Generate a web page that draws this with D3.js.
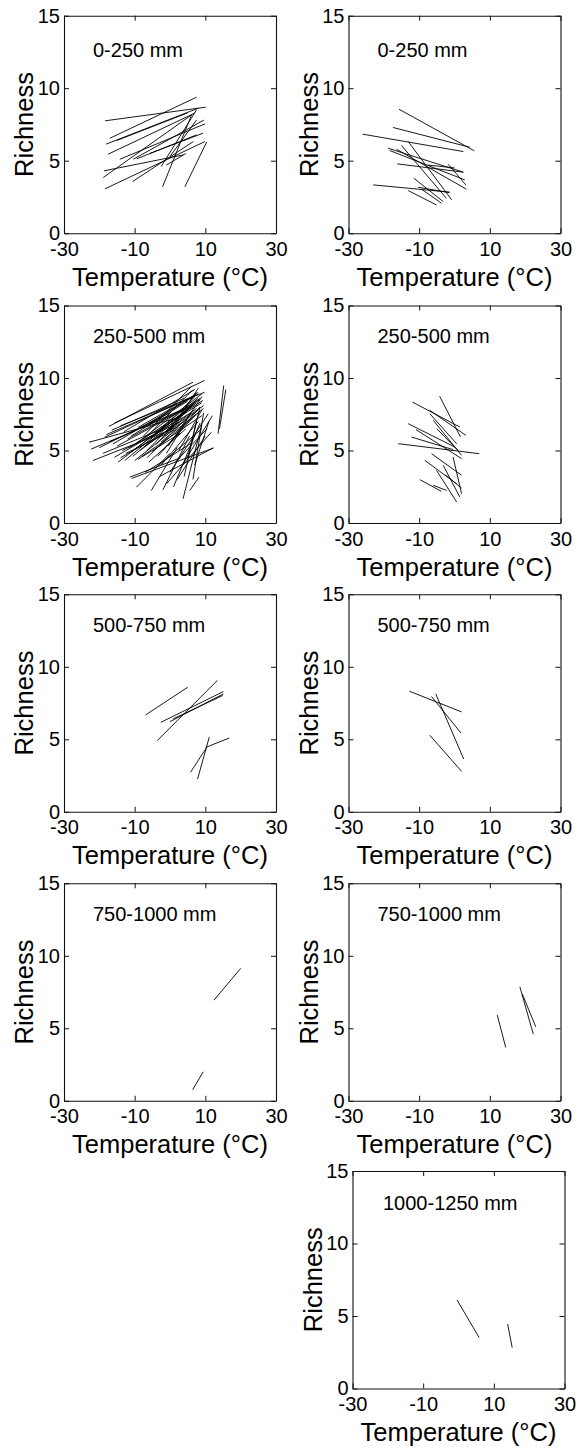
<!DOCTYPE html>
<html>
<head>
<meta charset="utf-8">
<script src="https://cdn.jsdelivr.net/npm/d3@7"></script>
<style>
  html, body { margin: 0; padding: 0; background: #fff; }
  svg { display: block; }
  text { font-family: Arial, "Liberation Sans", Helvetica, sans-serif; fill: #000; }
</style>
</head>
<body>
<svg id="chart" width="580" height="1452"></svg>
<script>
// ---------- Data: each segment is [temp1, richness1, temp2, richness2] ----------
const tempTicks = [-30, -10, 10, 30];
const richTicks = [0, 5, 10, 15];
const xLabel = "Temperature (°C)";
const yLabel = "Richness";

const left_0_250 = [
  [-18.4, 7.75, 10.1, 8.69],
  [-17.0, 6.55, 7.5, 9.38],
  [-18.1, 6.14, 8.0, 8.62],
  [-17.5, 5.45, 7.0, 8.28],
  [-18.9, 3.84, 6.1, 8.16],
  [-18.4, 3.06, 9.9, 6.32],
  [-18.7, 4.30, 3.8, 5.40],
  [-10.6, 3.56, 6.6, 6.32],
  [-14.2, 5.10, 9.9, 7.54],
  [-10.4, 5.10, 9.6, 7.80],
  [-9.4, 5.13, 7.5, 6.78],
  [-2.1, 3.20, 6.1, 8.16],
  [4.2, 3.20, 10.4, 6.30],
  [-2.5, 4.60, 7.5, 8.50],
  [0.0, 5.30, 7.5, 7.80],
  [-5.7, 5.50, 9.4, 6.90],
  [-15.0, 6.40, 5.0, 8.30],
  [-1.0, 4.70, 4.5, 5.50]
];

const right_0_250 = [
  [-15.7, 8.55, 5.6, 5.68],
  [-17.4, 7.29, 4.3, 5.93],
  [-26.0, 6.83, 2.5, 5.63],
  [-18.8, 5.86, 2.5, 4.21],
  [-16.2, 4.78, 2.5, 4.21],
  [-23.0, 3.33, -1.3, 2.83],
  [-13.1, 6.32, -0.8, 2.30],
  [-15.0, 6.05, -2.3, 2.41],
  [-16.4, 5.79, 3.4, 3.03],
  [-13.1, 2.94, -5.1, 1.95],
  [-11.5, 3.79, -3.2, 2.18],
  [-1.8, 4.76, 3.2, 3.33],
  [-18.3, 5.70, 2.9, 3.68],
  [-10.3, 3.17, -1.5, 2.80],
  [-9.3, 3.03, -3.7, 2.07],
  [-7.5, 4.70, 0.0, 4.50]
];

const left_250_500 = [
  [-22.9, 5.57, 3.0, 7.30], [-22.3, 5.10, 5.0, 7.90], [-21.8, 4.31, 2.0, 6.60],
  [-17.3, 6.66, 6.5, 9.71], [-15.7, 6.89, 9.8, 9.83], [-18.5, 5.92, 7.0, 8.80],
  [-16.1, 5.46, 8.0, 8.90], [-15.7, 4.54, 6.0, 7.60], [-14.7, 4.20, 7.5, 8.30],
  [-12.8, 4.31, 8.5, 8.60], [-14.0, 6.70, 9.8, 9.02], [-13.0, 6.30, 7.0, 9.20],
  [-12.0, 5.80, 8.5, 8.50], [-11.5, 5.20, 9.3, 8.45], [-10.5, 4.60, 6.0, 8.00],
  [-10.0, 4.30, 8.0, 7.80], [-9.5, 5.50, 9.0, 8.90], [-9.0, 6.60, 5.5, 8.60],
  [-8.5, 5.00, 7.5, 7.90], [-8.0, 4.60, 9.0, 7.40], [-7.5, 6.00, 6.0, 9.40],
  [-7.0, 5.30, 9.5, 8.10], [-6.5, 4.50, 4.5, 7.20], [-6.0, 6.80, 8.0, 9.00],
  [-5.5, 5.80, 7.0, 8.70], [-5.0, 4.90, 8.5, 7.70], [-4.5, 6.20, 9.0, 8.30],
  [-4.0, 5.40, 6.5, 8.20], [-3.5, 4.60, 7.0, 7.40], [-3.0, 6.50, 8.0, 8.60],
  [-2.5, 5.60, 9.5, 7.90], [-2.0, 5.00, 8.5, 8.00], [-1.5, 6.00, 7.5, 9.00],
  [-1.0, 4.80, 6.0, 7.60], [-0.5, 5.30, 9.0, 8.70], [0.0, 6.30, 8.0, 9.30],
  [-20.0, 5.20, 0.0, 7.60], [-19.0, 4.80, -2.0, 6.50], [-18.0, 6.10, 2.0, 8.20],
  [-17.0, 5.60, 5.0, 8.00], [-16.5, 6.40, 4.0, 8.60], [-13.5, 5.00, 3.0, 7.00],
  [-12.5, 4.80, 1.0, 6.40], [-11.0, 6.00, 5.0, 8.40], [-9.0, 4.40, 3.0, 6.20],
  [-15.0, 5.30, 6.0, 8.10], [-14.0, 4.50, 4.0, 7.00], [-11.0, 4.90, 7.0, 8.20],
  [-8.0, 5.60, 6.5, 9.20], [-6.5, 5.00, 7.5, 8.50],
  [-11.4, 3.16, 3.0, 4.50], [-9.5, 2.47, 0.0, 4.80], [-5.3, 2.24, 2.0, 5.20],
  [-2.0, 2.29, 5.5, 6.00], [3.7, 1.67, 9.0, 6.80], [5.6, 2.24, 8.2, 3.16],
  [-3.0, 3.20, 12.2, 5.18], [-1.0, 2.70, 11.7, 6.26], [0.0, 3.50, 10.8, 7.53],
  [1.0, 2.50, 8.5, 6.90], [2.0, 3.00, 10.0, 6.00], [-4.0, 3.80, 9.0, 6.50],
  [-7.0, 3.50, 6.0, 5.50], [4.0, 3.20, 7.5, 7.00], [-2.5, 4.00, 8.0, 7.00],
  [1.5, 4.20, 10.5, 6.50], [3.0, 3.80, 12.0, 7.40], [5.0, 4.50, 8.5, 8.00],
  [6.5, 3.00, 9.5, 7.60], [-6.0, 4.20, 4.5, 6.50], [2.5, 5.00, 9.0, 7.80],
  [7.0, 4.00, 11.0, 7.00], [-10.8, 3.08, 12.3, 5.17],
  [13.6, 6.15, 15.2, 9.48], [14.0, 6.50, 15.8, 9.20]
];

const right_250_500 = [
  [-15.9, 5.47, 7.0, 4.78],
  [-11.9, 8.34, 1.5, 6.62],
  [-4.2, 8.74, 1.7, 5.93],
  [-7.0, 7.77, 3.2, 6.05],
  [-13.1, 6.85, 0.1, 5.24],
  [-10.9, 6.44, 2.0, 4.44],
  [-12.2, 5.93, -0.4, 5.06],
  [-6.0, 7.08, 2.0, 4.67],
  [-6.5, 4.78, 2.0, 3.29],
  [-8.4, 4.32, 0.6, 2.71],
  [-9.8, 2.99, -3.7, 2.18],
  [-6.0, 2.60, -2.3, 2.25],
  [-5.1, 3.63, 0.6, 1.45],
  [-0.4, 4.55, 2.0, 2.02],
  [-3.2, 3.98, 1.5, 1.79],
  [-7.0, 7.54, 0.6, 5.47],
  [-5.0, 6.50, 1.0, 5.00],
  [-2.5, 3.30, 2.0, 2.40]
];

const left_500_750 = [
  [-6.9, 6.68, 5.0, 8.59],
  [-3.6, 4.91, 13.4, 9.06],
  [-2.6, 6.17, 15.1, 8.29],
  [0.0, 6.22, 15.1, 8.13],
  [0.9, 6.41, 14.9, 8.02],
  [5.8, 2.72, 10.4, 4.45],
  [7.8, 2.26, 11.1, 5.14],
  [10.2, 4.45, 16.8, 5.09]
];

const right_500_750 = [
  [-12.8, 8.32, 2.0, 6.89],
  [-6.5, 7.95, 1.8, 5.44],
  [-5.3, 8.13, 2.6, 3.64],
  [-7.0, 5.28, 2.0, 2.79]
];

const left_750_1000 = [
  [12.45, 6.94, 20.0, 9.13],
  [6.4, 0.76, 9.4, 2.00]
];

const right_750_1000 = [
  [12.1, 5.91, 14.5, 3.68],
  [18.5, 7.86, 22.3, 4.60],
  [19.2, 7.36, 23.0, 5.10]
];

const right_1000_1250 = [
  [-0.4, 6.10, 5.85, 3.51],
  [13.9, 4.45, 15.2, 2.82]
];

const panelLabels = ["0-250 mm", "250-500 mm", "500-750 mm", "750-1000 mm", "1000-1250 mm"];

// ---------- Layout ----------
const W = 212, H = 217.5;
const rowTops = [15.7, 305.5, 594.3, 883.3, 1171];
const colX = [64, 348.5];
const labelDy = [41, 37.5, 37.5, 37.5, 39];

const panels = [
  {row: 0, x0: colX[0], label: panelLabels[0], segs: left_0_250},
  {row: 0, x0: colX[1], label: panelLabels[0], segs: right_0_250},
  {row: 1, x0: colX[0], label: panelLabels[1], segs: left_250_500},
  {row: 1, x0: colX[1], label: panelLabels[1], segs: right_250_500},
  {row: 2, x0: colX[0], label: panelLabels[2], segs: left_500_750},
  {row: 2, x0: colX[1], label: panelLabels[2], segs: right_500_750},
  {row: 3, x0: colX[0], label: panelLabels[3], segs: left_750_1000},
  {row: 3, x0: colX[1], label: panelLabels[3], segs: right_750_1000},
  {row: 4, x0: 352.5, label: panelLabels[4], segs: right_1000_1250}
];

const svg = d3.select("#chart");
const fmt = d => String(d);   // plain hyphen-minus, as in the reference

panels.forEach(p => {
  const y0 = rowTops[p.row];
  const g = svg.append("g").attr("transform", `translate(${p.x0},${y0})`);
  const x = d3.scaleLinear().domain([-30, 30]).range([0, W]);
  const y = d3.scaleLinear().domain([0, 15]).range([H, 0]);

  // data segments
  g.append("g")
    .selectAll("line")
    .data(p.segs)
    .join("line")
    .attr("x1", d => x(d[0]))
    .attr("y1", d => y(d[1]))
    .attr("x2", d => x(d[2]))
    .attr("y2", d => y(d[3]))
    .attr("stroke", "#000")
    .attr("stroke-width", 0.9);

  // axes (box with inward ticks)
  const styleAxis = sel => {
    sel.selectAll(".domain").attr("stroke", "#111").attr("stroke-width", 1.1);
    sel.selectAll(".tick line").attr("stroke", "#111").attr("stroke-width", 1);
  };

  const bottom = g.append("g").attr("transform", `translate(0,${H})`)
    .call(d3.axisBottom(x).tickValues(tempTicks).tickSizeInner(-5).tickSizeOuter(0).tickPadding(8.5)
      .tickFormat(fmt));
  bottom.selectAll("text").attr("font-size", 20).attr("fill", "#000")
    .attr("font-family", "Arial, 'Liberation Sans', sans-serif");
  styleAxis(bottom);

  const top = g.append("g")
    .call(d3.axisTop(x).tickValues(tempTicks).tickSizeInner(-5).tickSizeOuter(0).tickFormat(""));
  styleAxis(top);

  const left = g.append("g")
    .call(d3.axisLeft(y).tickValues(richTicks).tickSizeInner(-5).tickSizeOuter(0).tickPadding(4)
      .tickFormat(fmt));
  left.selectAll("text").attr("font-size", 20).attr("fill", "#000")
    .attr("font-family", "Arial, 'Liberation Sans', sans-serif");
  styleAxis(left);

  const right = g.append("g").attr("transform", `translate(${W},0)`)
    .call(d3.axisRight(y).tickValues(richTicks).tickSizeInner(-5).tickSizeOuter(0).tickFormat(""));
  styleAxis(right);

  // panel label
  g.append("text")
    .attr("x", p.row === 4 ? 30.5 : 29)
    .attr("y", labelDy[p.row])
    .attr("font-size", 20)
    .text(p.label);

  // axis titles
  g.append("text")
    .attr("x", W / 2)
    .attr("y", H + 52.5)
    .attr("text-anchor", "middle")
    .attr("font-size", 25.5)
    .text(xLabel);

  g.append("text")
    .attr("transform", `translate(-31,${H / 2}) rotate(-90)`)
    .attr("text-anchor", "middle")
    .attr("font-size", 25.5)
    .text(yLabel);
});
</script>
</body>
</html>
